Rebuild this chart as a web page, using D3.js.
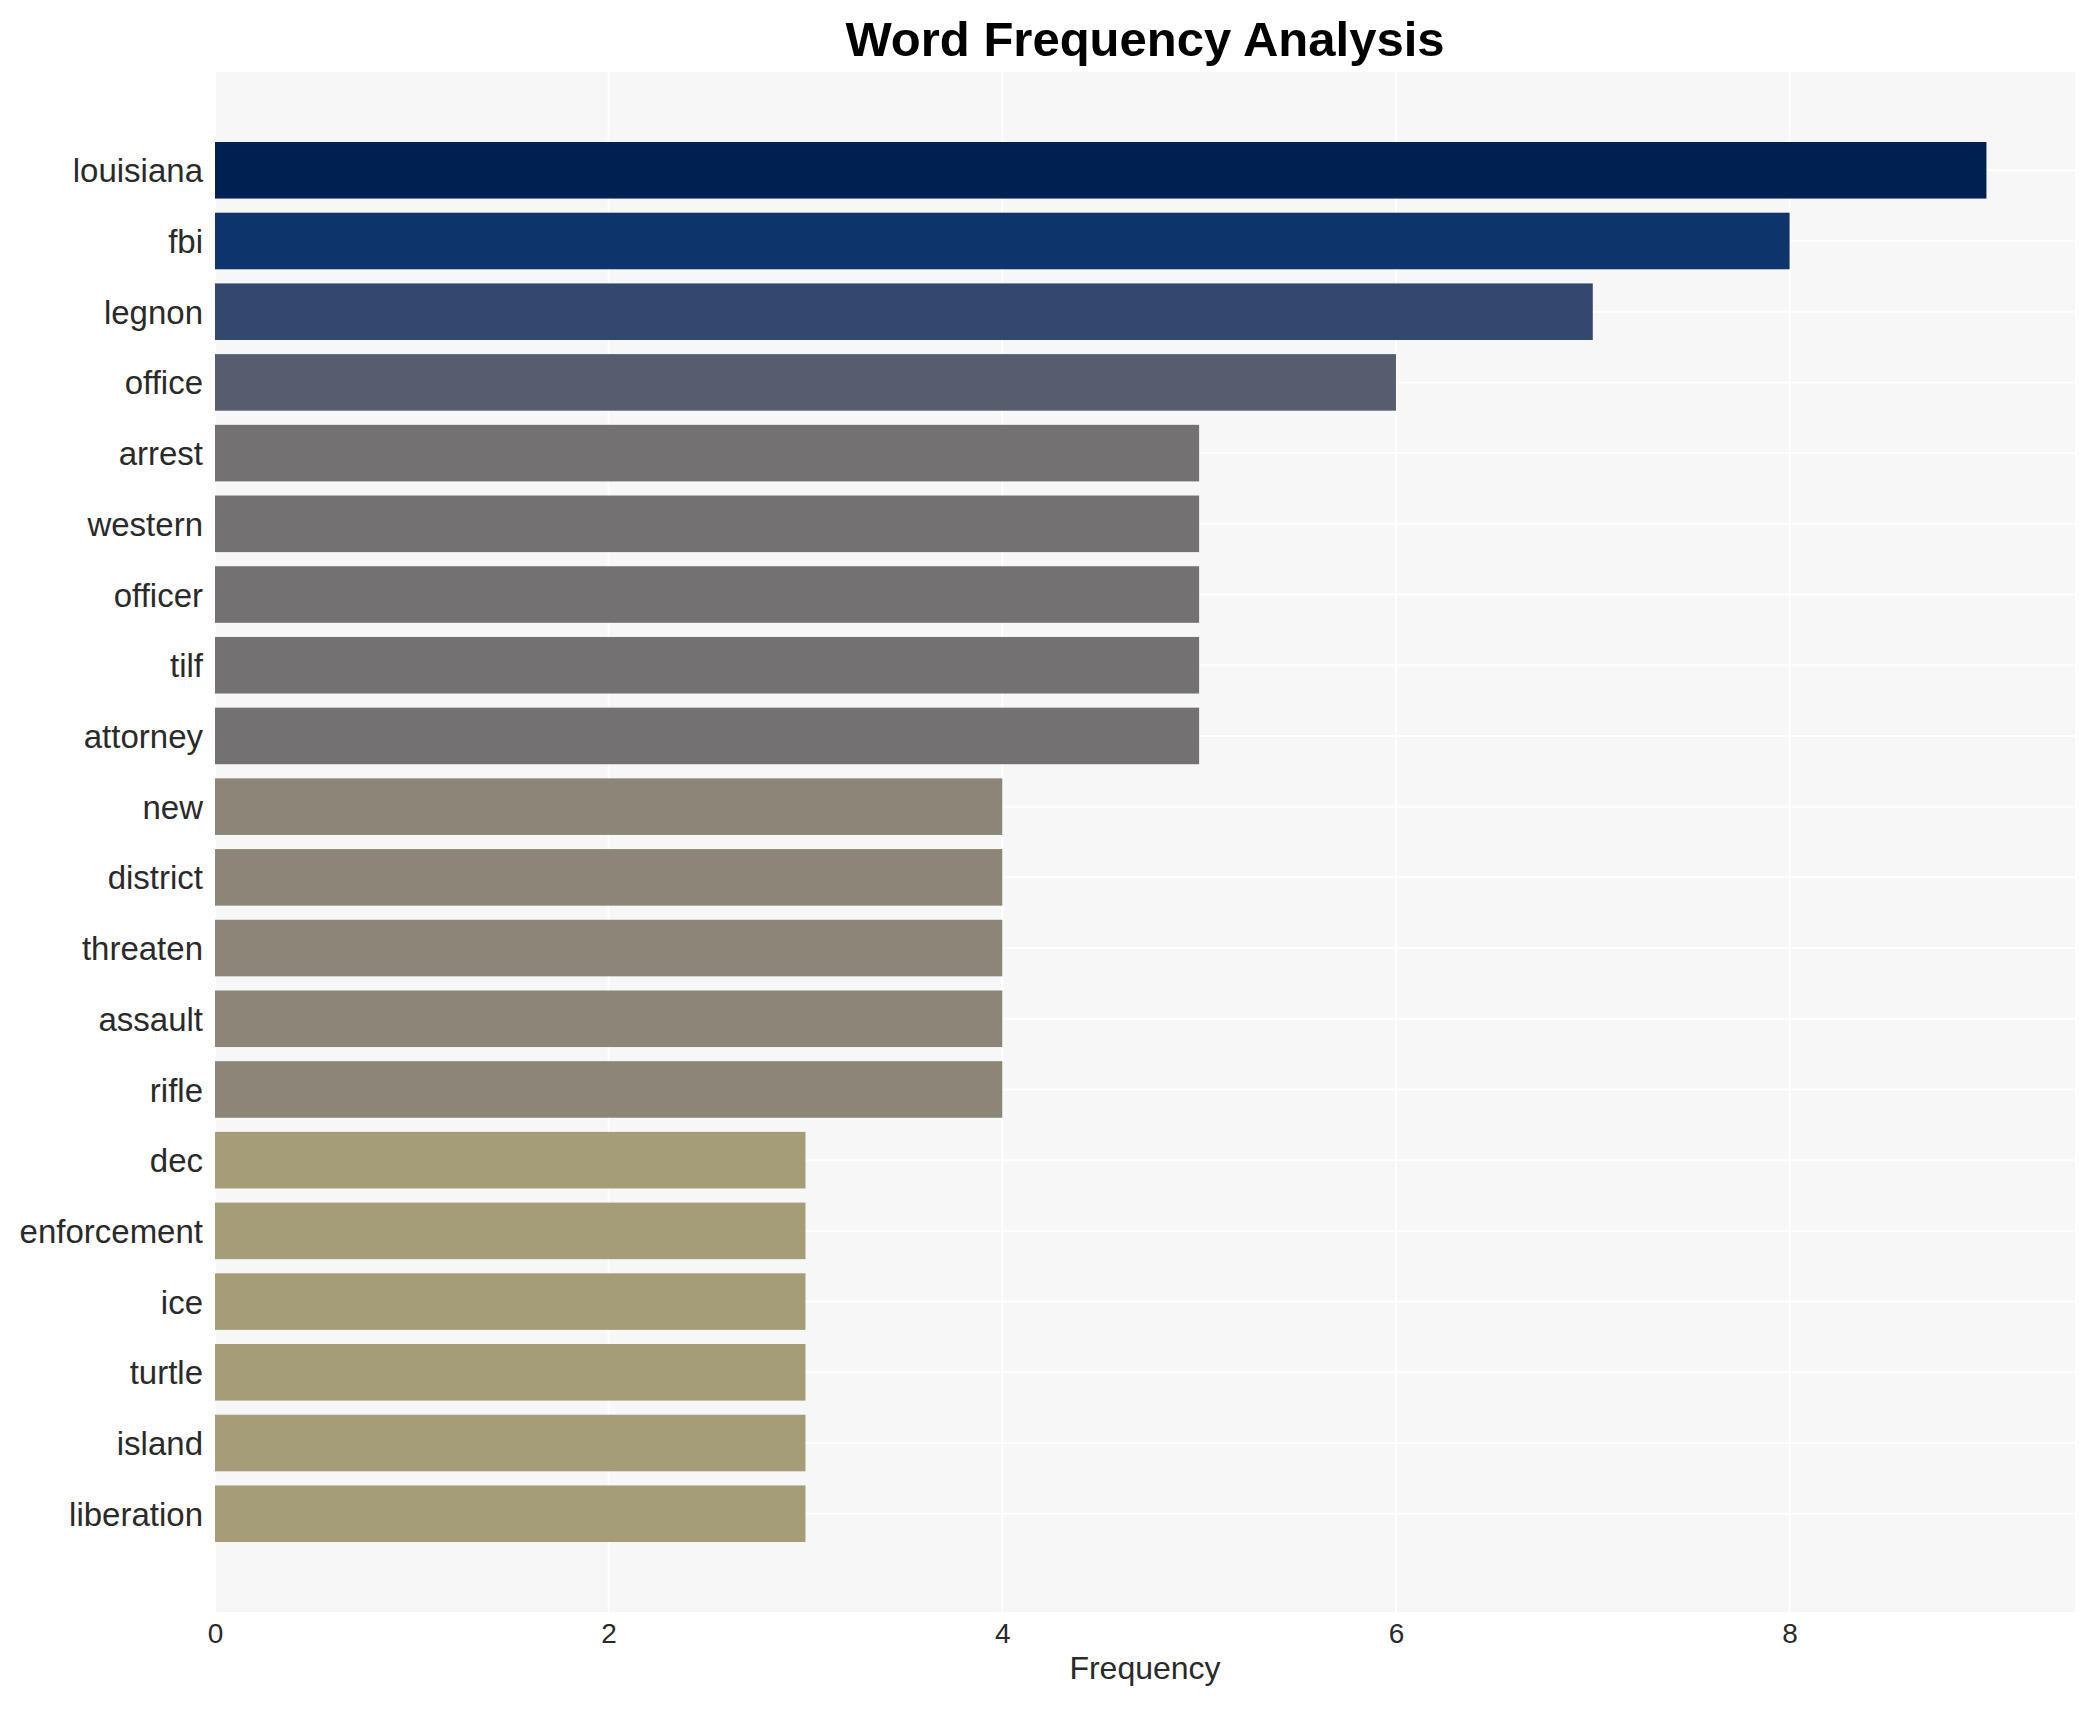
<!DOCTYPE html>
<html>
<head>
<meta charset="utf-8">
<script src="https://cdn.jsdelivr.net/npm/d3@7"></script>
<style>
  body { margin: 0; background: #fff; }
  text { font-family: "Liberation Sans", Arial, sans-serif; }
</style>
</head>
<body>
<div id="chart"></div>
<script>
// DATA
var words = ["louisiana","fbi","legnon","office","arrest","western","officer","tilf","attorney",
             "new","district","threaten","assault","rifle","dec","enforcement","ice","turtle","island","liberation"];
var counts = [9, 8, 7, 6, 5, 5, 5, 5, 5, 4, 4, 4, 4, 4, 3, 3, 3, 3, 3, 3];
var xTicks = [0, 2, 4, 6, 8];

var W = 2095, H = 1710;
var margin = {left: 215, top: 72, right: 20, bottom: 98};
var width = W - margin.left - margin.right,
    height = H - margin.top - margin.bottom;

var svg = d3.select("#chart").append("svg")
    .attr("width", W)
    .attr("height", H);

var g = svg.append("g")
    .attr("transform", "translate(" + margin.left + "," + margin.top + ")");

// SCALES
var x = d3.scaleLinear()
    .domain([0, d3.max(counts) * 1.05])
    .range([0, width]);

var y = d3.scalePoint()
    .domain(words)
    .range([0, height])
    .padding(1.39);

var barH = y.step() * 0.8;

// darker = more frequent
var color = d3.scaleSequential(d3.interpolateCividis)
    .domain([d3.max(counts), 0]);

// PANEL
g.append("rect")
    .attr("width", width)
    .attr("height", height)
    .attr("fill", "#f7f7f7");

// grid
g.selectAll("line.vgrid")
    .data(xTicks)
  .enter().append("line")
    .attr("class", "vgrid")
    .attr("x1", function(d) { return x(d); })
    .attr("x2", function(d) { return x(d); })
    .attr("y1", 0)
    .attr("y2", height)
    .attr("stroke", "#fff")
    .attr("stroke-width", 2);

g.selectAll("line.hgrid")
    .data(words)
  .enter().append("line")
    .attr("class", "hgrid")
    .attr("x1", 0)
    .attr("x2", width)
    .attr("y1", function(d) { return y(d); })
    .attr("y2", function(d) { return y(d); })
    .attr("stroke", "#fff")
    .attr("stroke-width", 2);

// BARS
g.selectAll("rect.bar")
    .data(words)
  .enter().append("rect")
    .attr("class", "bar")
    .attr("x", x(0))
    .attr("y", function(d) { return y(d) - barH / 2; })
    .attr("width", function(d, i) { return x(counts[i]) - x(0); })
    .attr("height", barH)
    .attr("fill", function(d, i) { return color(counts[i]); });

// AXES
var yAxis = g.append("g")
    .call(d3.axisLeft(y).tickSize(0).tickPadding(12));
yAxis.select(".domain").remove();
yAxis.selectAll("text")
    .attr("dy", "0.35em")
    .style("font-size", "33px")
    .attr("fill", "#2a2a2a");

var xAxis = g.append("g")
    .attr("transform", "translate(0," + height + ")")
    .call(d3.axisBottom(x).tickValues(xTicks).tickSize(0).tickPadding(11));
xAxis.select(".domain").remove();
xAxis.selectAll("text")
    .attr("dy", "0.71em")
    .style("font-size", "28px")
    .attr("fill", "#2a2a2a");

// TITLES
svg.append("text")
    .attr("x", margin.left + width / 2)
    .attr("y", 56)
    .attr("text-anchor", "middle")
    .style("font-size", "49px")
    .style("font-weight", "bold")
    .attr("fill", "#000")
    .text("Word Frequency Analysis");

svg.append("text")
    .attr("x", margin.left + width / 2)
    .attr("y", 1679)
    .attr("text-anchor", "middle")
    .style("font-size", "32px")
    .attr("fill", "#2a2a2a")
    .text("Frequency");
</script>
</body>
</html>
